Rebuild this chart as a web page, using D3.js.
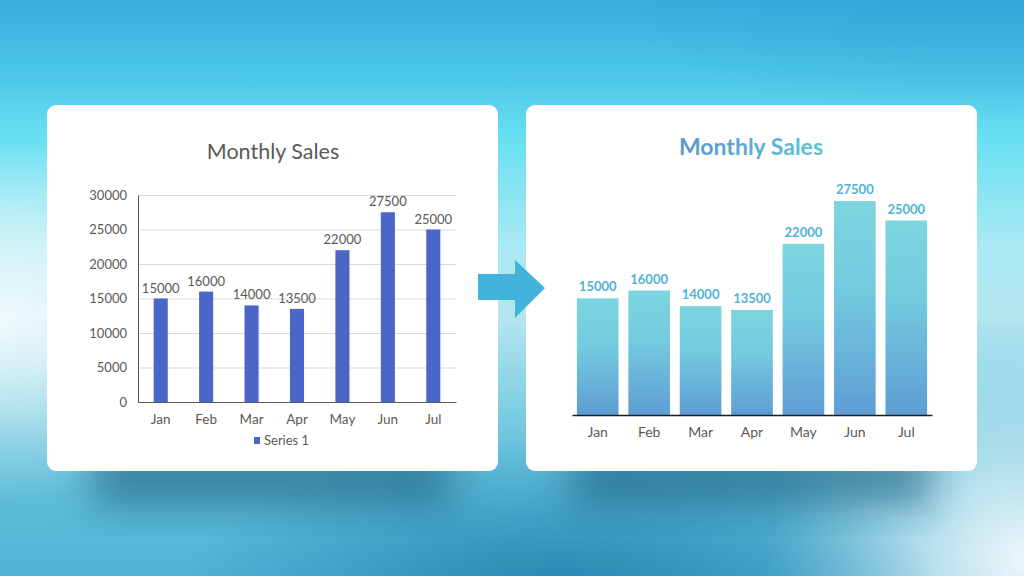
<!DOCTYPE html>
<html>
<head>
<meta charset="utf-8">
<script src="https://cdn.jsdelivr.net/npm/d3@7"></script>
<style>
  html, body { margin: 0; padding: 0; overflow: hidden; }
  svg { display: block; font-family: Lato, "Open Sans", sans-serif; }
</style>
</head>
<body>
<svg id="chart" width="1024" height="576"></svg>
<script>
// data
const months = ['Jan', 'Feb', 'Mar', 'Apr', 'May', 'Jun', 'Jul'];
const sales = [15000, 16000, 14000, 13500, 22000, 27500, 25000];
const yTicks = [0, 5000, 10000, 15000, 20000, 25000, 30000];
const chartTitle = 'Monthly Sales';
const seriesName = 'Series 1';

const svg = d3.select('#chart');
const defs = svg.append('defs');

// background gradients
const bg = defs.append('linearGradient').attr('id', 'bg').attr('x1', 0).attr('y1', 0).attr('x2', 0).attr('y2', 1);
[[0, '#38acdd'], [0.12, '#4ac4e8'], [0.24, '#68e0f2'], [0.42, '#a8e9f3'], [0.55, '#b4e6f0'],
 [0.78, '#68c3dc'], [1, '#52b2d4']].forEach(s => bg.append('stop').attr('offset', s[0]).attr('stop-color', s[1]));

function radial(id, color, op) {
  const g = defs.append('radialGradient').attr('id', id);
  g.append('stop').attr('offset', 0).attr('stop-color', color).attr('stop-opacity', op);
  g.append('stop').attr('offset', 1).attr('stop-color', color).attr('stop-opacity', 0);
}
radial('whiteL', '#ffffff', 0.8);
radial('whiteR', '#ffffff', 0.9);
radial('darkB', '#1b78a6', 0.75);
radial('darkT', '#2a98d0', 0.4);

svg.append('rect').attr('width', 1024).attr('height', 576).attr('fill', 'url(#bg)');
svg.append('ellipse').attr('cx', 0).attr('cy', 320).attr('rx', 280).attr('ry', 180).attr('fill', 'url(#whiteL)');
svg.append('ellipse').attr('cx', 1024).attr('cy', 560).attr('rx', 260).attr('ry', 220).attr('fill', 'url(#whiteR)');
svg.append('ellipse').attr('cx', 560).attr('cy', 590).attr('rx', 380).attr('ry', 150).attr('fill', 'url(#darkB)');
svg.append('ellipse').attr('cx', 980).attr('cy', 0).attr('rx', 360).attr('ry', 120).attr('fill', 'url(#darkT)');

// shadow blur
defs.append('filter').attr('id', 'blur').attr('x', '-50%').attr('y', '-50%').attr('width', '200%').attr('height', '200%')
  .append('feGaussianBlur').attr('stdDeviation', 20);

const cards = [{x: 47, y: 105, w: 451, h: 366}, {x: 526, y: 105, w: 451, h: 366}];
cards.forEach(c => {
  svg.append('rect')
    .attr('x', c.x + 45).attr('y', c.y + c.h - 25)
    .attr('width', c.w - 90).attr('height', 60)
    .attr('fill', '#175a7a').attr('opacity', 0.6)
    .attr('filter', 'url(#blur)');
});
cards.forEach(c => {
  svg.append('rect')
    .attr('x', c.x).attr('y', c.y).attr('width', c.w).attr('height', c.h)
    .attr('rx', 9).attr('fill', '#ffffff');
});

// arrow
svg.append('path')
  .attr('d', 'M478,274 L515,274 L515,260 L545,288 L515,318 L515,300 L478,300 Z')
  .attr('fill', '#44b3dc');

// ---------- LEFT CHART (default style) ----------
const gray = '#595959';
const left = svg.append('g');

const xL = d3.scaleBand().domain(months).range([138, 456]).paddingInner(0.69).paddingOuter(0.345);
const yL = d3.scaleLinear().domain([0, 30000]).range([402, 195]);

left.append('text')
  .attr('x', 273).attr('y', 159)
  .attr('text-anchor', 'middle')
  .attr('fill', gray).style('font-size', '21.5px')
  .text(chartTitle);

// gridlines
left.append('g')
  .attr('transform', 'translate(138,0)')
  .call(d3.axisLeft(yL).tickValues(yTicks).tickSize(-318).tickFormat(''))
  .call(g => g.select('.domain').remove())
  .call(g => g.selectAll('line').attr('stroke', '#d9d9d9'));

// y tick labels
left.append('g')
  .attr('transform', 'translate(138,0)')
  .call(d3.axisLeft(yL).tickValues(yTicks).tickSize(0).tickPadding(11).tickFormat(d3.format('d')))
  .call(g => g.select('.domain').attr('stroke', gray))
  .call(g => g.selectAll('text').attr('fill', gray).style('font-size', '13px').style('font-family', 'Lato'));

left.selectAll('.barL')
  .data(sales)
  .enter()
  .append('rect')
  .attr('x', (d, i) => xL(months[i]))
  .attr('y', d => yL(d))
  .attr('width', xL.bandwidth())
  .attr('height', d => yL(0) - yL(d))
  .attr('fill', '#4a66c8');

left.selectAll('.lblL')
  .data(sales)
  .enter()
  .append('text')
  .attr('x', (d, i) => xL(months[i]) + xL.bandwidth() / 2)
  .attr('y', d => yL(d) - 6)
  .attr('text-anchor', 'middle')
  .attr('fill', gray).style('font-size', '13px')
  .text(d => d);

// x axis
left.append('g')
  .attr('transform', `translate(0,${yL(0)})`)
  .call(d3.axisBottom(xL).tickSize(0).tickPadding(12))
  .call(g => g.select('.domain').attr('stroke', gray))
  .call(g => g.selectAll('text').attr('fill', gray).style('font-size', '13.5px').style('font-family', 'Lato'));

// legend
left.append('rect').attr('x', 254).attr('y', 437).attr('width', 6).attr('height', 7).attr('fill', '#4a66c8');
left.append('text').attr('x', 264).attr('y', 445)
  .attr('fill', gray).style('font-size', '13px').text(seriesName);

// ---------- RIGHT CHART (styled) ----------
const right = svg.append('g');

const tg = defs.append('linearGradient').attr('id', 'titleGrad').attr('x1', 0).attr('x2', 1).attr('y1', 0).attr('y2', 0);
tg.append('stop').attr('offset', 0).attr('stop-color', '#5a96cf');
tg.append('stop').attr('offset', 1).attr('stop-color', '#5dc3d8');

const barGrad = defs.append('linearGradient').attr('id', 'barGrad').attr('x1', 0).attr('x2', 0).attr('y1', 0).attr('y2', 1);
barGrad.append('stop').attr('offset', 0).attr('stop-color', '#7cd5e0');
barGrad.append('stop').attr('offset', 0.4).attr('stop-color', '#74cbdf');
barGrad.append('stop').attr('offset', 1).attr('stop-color', '#5f9dd4');

const xR = d3.scaleBand().domain(months).range([572, 932]).paddingInner(0.19).paddingOuter(0.095);
const yR = d3.scaleLinear().domain([0, 30000]).range([415, 181.6]);

right.append('text')
  .attr('x', 751).attr('y', 155)
  .attr('text-anchor', 'middle')
  .attr('fill', 'url(#titleGrad)')
  .style('font-size', '23px').style('font-weight', 'bold')
  .text(chartTitle);

right.selectAll('.barR')
  .data(sales)
  .enter()
  .append('rect')
  .attr('x', (d, i) => xR(months[i]))
  .attr('y', d => yR(d))
  .attr('width', xR.bandwidth())
  .attr('height', d => yR(0) - yR(d))
  .attr('fill', 'url(#barGrad)');

right.selectAll('.lblR')
  .data(sales)
  .enter()
  .append('text')
  .attr('x', (d, i) => xR(months[i]) + xR.bandwidth() / 2)
  .attr('y', d => yR(d) - 7)
  .attr('text-anchor', 'middle')
  .attr('fill', '#4fb2d6')
  .style('font-size', '13px').style('font-weight', 'bold')
  .text(d => d);

right.append('g')
  .attr('transform', `translate(0,${yR(0)})`)
  .call(d3.axisBottom(xR).tickSize(0).tickPadding(12).tickSizeOuter(0))
  .call(g => g.select('.domain').attr('stroke', '#1e1e1e').attr('stroke-width', 1.6))
  .call(g => g.selectAll('text').attr('fill', gray).style('font-size', '14px').style('font-family', 'Lato'));
</script>
</body>
</html>
